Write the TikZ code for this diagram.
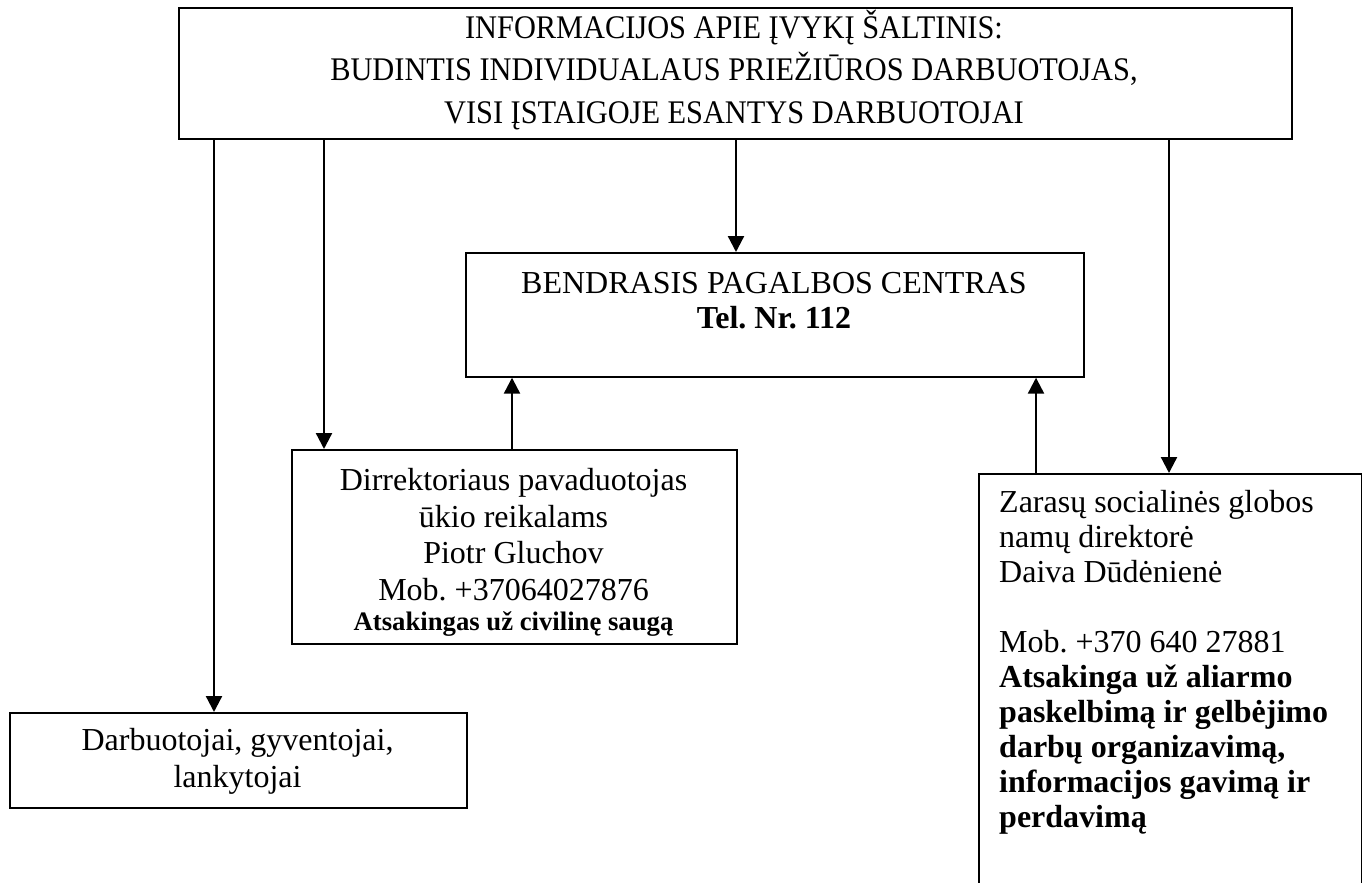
\documentclass[tikz,border=0pt]{standalone}
\usepackage{fontspec}
\setmainfont{Liberation Serif}
\newfontfamily\condfont[FakeStretch=0.92]{Liberation Serif}
\usetikzlibrary{arrows.meta}
\frenchspacing
\begin{document}
\frenchspacing
\begin{tikzpicture}[x=1pt,y=-1pt,
  box/.style={draw, line width=1.7pt, inner sep=0pt, anchor=north west},
  lbl/.style={anchor=base, inner sep=0pt, font=\fontsize{32}{36}\selectfont},
  lbll/.style={anchor=base west, inner sep=0pt, font=\fontsize{32}{36}\selectfont},
  toplbl/.style={anchor=base, inner sep=0pt, font=\condfont\fontsize{33}{40}\selectfont},
  arr/.style={line width=2.3pt, -{Triangle[length=16pt,width=16pt]}}]
\useasboundingbox (0,0) rectangle (1362,883);
% boxes
\node[box, minimum width=1113pt, minimum height=131pt] (src) at (178,7) {};
\node[box, minimum width=618pt, minimum height=124pt] (bpc) at (465,252) {};
\node[box, minimum width=445pt, minimum height=194pt] (dir) at (291,449) {};
\node[box, minimum width=383pt, minimum height=440pt] (zar) at (978,473) {};
\node[box, minimum width=457pt, minimum height=95pt] (darb) at (9,712) {};
% top box text
\node[toplbl] (t1) at (734,38) {INFORMACIJOS APIE ĮVYKĮ ŠALTINIS:};
\node[toplbl] (t2) at (734,81) {BUDINTIS INDIVIDUALAUS PRIEŽIŪROS DARBUOTOJAS,};
\node[toplbl] (t3) at (734,123) {VISI ĮSTAIGOJE ESANTYS DARBUOTOJAI};
% bendrasis
\node[lbl] (b1) at (774,293) {BENDRASIS PAGALBOS CENTRAS};
\node[lbl] (b2) at (774,328) {\bfseries Tel. Nr. 112};
% direktoriaus pavaduotojas
\node[lbl] (d1) at (513.5,490) {Dirrektoriaus pavaduotojas};
\node[lbl] (d2) at (513.5,527) {ūkio reikalams};
\node[lbl] (d3) at (513.5,563) {Piotr Gluchov};
\node[lbl] (d4) at (513.5,600) {Mob. +37064027876};
\node[lbl, font=\bfseries\fontsize{26.7}{30}\selectfont] (d5) at (513.5,630) {Atsakingas už civilinę saugą};
% darbuotojai
\node[lbl] (w1) at (237.5,750) {Darbuotojai, gyventojai,};
\node[lbl] (w2) at (237.5,787) {lankytojai};
% zarasu
\node[lbll] (z1) at (999,512) {Zarasų socialinės globos};
\node[lbll] (z2) at (999,547) {namų direktorė};
\node[lbll] (z3) at (999,582) {Daiva Dūdėnienė};
\node[lbll] (z4) at (999,652) {Mob. +370 640 27881};
\node[lbll, font=\bfseries\fontsize{32}{36}\selectfont] (z5) at (999,687) {Atsakinga už aliarmo};
\node[lbll, font=\bfseries\fontsize{32}{36}\selectfont] (z6) at (999,722) {paskelbimą ir gelbėjimo};
\node[lbll, font=\bfseries\fontsize{32}{36}\selectfont] (z7) at (999,757) {darbų organizavimą,};
\node[lbll, font=\bfseries\fontsize{32}{36}\selectfont] (z8) at (999,792) {informacijos gavimą ir};
\node[lbll, font=\bfseries\fontsize{32}{36}\selectfont] (z9) at (999,827) {perdavimą};
% arrow x positions
\coordinate (c1) at (214,0);
\coordinate (c2) at (324,0);
\coordinate (c3) at (736,0);
\coordinate (c4) at (1169,0);
\coordinate (c5) at (512,0);
\coordinate (c6) at (1036,0);
\draw[arr] (src.south -| c1) -- (darb.north -| c1);
\draw[arr] (src.south -| c2) -- (dir.north -| c2);
\draw[arr] (src.south -| c3) -- (bpc.north -| c3);
\draw[arr] (src.south -| c4) -- (zar.north -| c4);
\draw[arr] (dir.north -| c5) -- (bpc.south -| c5);
\draw[arr] (zar.north -| c6) -- (bpc.south -| c6);
\end{tikzpicture}
\end{document}
